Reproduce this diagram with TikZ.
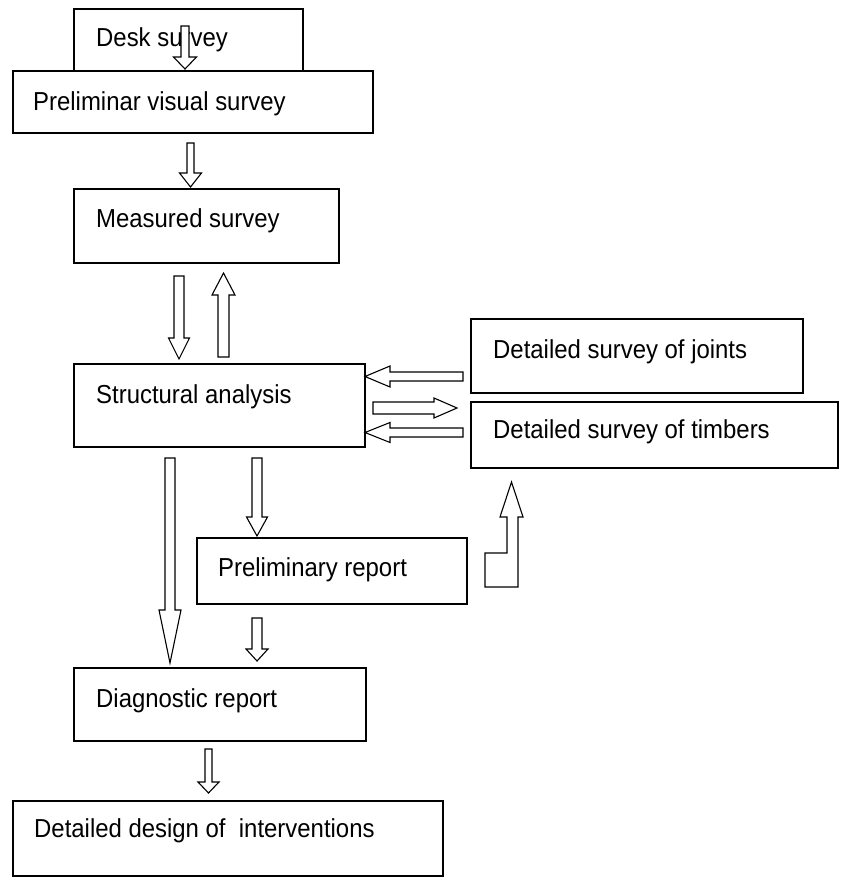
\documentclass[tikz,border=0pt]{standalone}
\usepackage{fontspec}
\setmainfont{Liberation Sans}[FakeStretch=0.92]
\begin{document}
\begin{tikzpicture}[x=1pt,y=-1pt,
  box/.style={draw=black,line width=1.5pt,fill=white,rectangle,inner sep=0pt,outer sep=0pt,anchor=north west},
  lbl/.style={anchor=base west,inner sep=0pt,font=\fontsize{26}{29}\selectfont},
  barrow/.style={draw=black,line width=1.1pt,fill=white,line join=miter}]
\useasboundingbox (0,0) rectangle (840,877);
\newcommand\vba[6]{\draw[barrow] (#1-#5,#2) -- (#1+#5,#2) -- (#1+#5,#3) -- (#1+#6,#3) -- (#1,#4) -- (#1-#6,#3) -- (#1-#5,#3) -- cycle;}
\newcommand\hba[6]{\draw[barrow] (#2,#1-#5) -- (#2,#1+#5) -- (#3,#1+#5) -- (#3,#1+#6) -- (#4,#1) -- (#3,#1-#6) -- (#3,#1-#5) -- cycle;}
% boxes
\node[box,minimum width=229pt,minimum height=62pt] (desk) at (74,9) {};
\node[box,minimum width=360pt,minimum height=62pt] (prelim) at (13,71) {};
\node[box,minimum width=265pt,minimum height=74pt] (measured) at (74,189) {};
\node[box,minimum width=291pt,minimum height=83pt] (struct) at (74,364) {};
\node[box,minimum width=332pt,minimum height=74pt] (joints) at (471,319) {};
\node[box,minimum width=367pt,minimum height=66pt] (timbers) at (471,402) {};
\node[box,minimum width=270pt,minimum height=66pt] (prep) at (197,538) {};
\node[box,minimum width=292pt,minimum height=73pt] (diag) at (74,668) {};
\node[box,minimum width=430pt,minimum height=75pt] (design) at (13,801) {};
% labels
\node[lbl] (deskT) at (96,47) {Desk survey};
\node[lbl] (prelimT) at (33,111) {Preliminar visual survey};
\node[lbl] (measuredT) at (96,228) {Measured survey};
\node[lbl] (structT) at (96,403) {Structural analysis};
\node[lbl] (jointsT) at (493,358) {Detailed survey of joints};
\node[lbl] (timbersT) at (493,438) {Detailed survey of timbers};
\node[lbl] (prepT) at (218,576) {Preliminary report};
\node[lbl] (diagT) at (96,707) {Diagnostic report};
\node[lbl] (designT) at (34,837) {Detailed design of~~interventions};
% block arrows
\vba{185}{26}{57}{69}{4}{11.5}
\vba{190.5}{143}{173}{187}{3.5}{11}
\vba{179}{276}{338}{359}{5}{10.5}
\vba{223.5}{357}{295}{273}{5.5}{11.5}
\vba{170}{458}{610}{663}{5}{11}
\vba{257}{458}{517}{536}{5}{10.5}
\vba{257}{618}{649}{661}{5}{11}
\vba{208.5}{749}{782}{793}{3.5}{10.5}
\hba{376.5}{463}{390}{365}{4.5}{10.5}
\hba{408}{373}{434}{457}{6}{10}
\hba{432.5}{463}{390}{365}{4.5}{10}
\draw[barrow] (485,553) -- (507,553) -- (507,517) -- (500,517) -- (511.5,482) -- (523,517) -- (518,517) -- (518,587) -- (485,587) -- cycle;
\end{tikzpicture}
\end{document}
